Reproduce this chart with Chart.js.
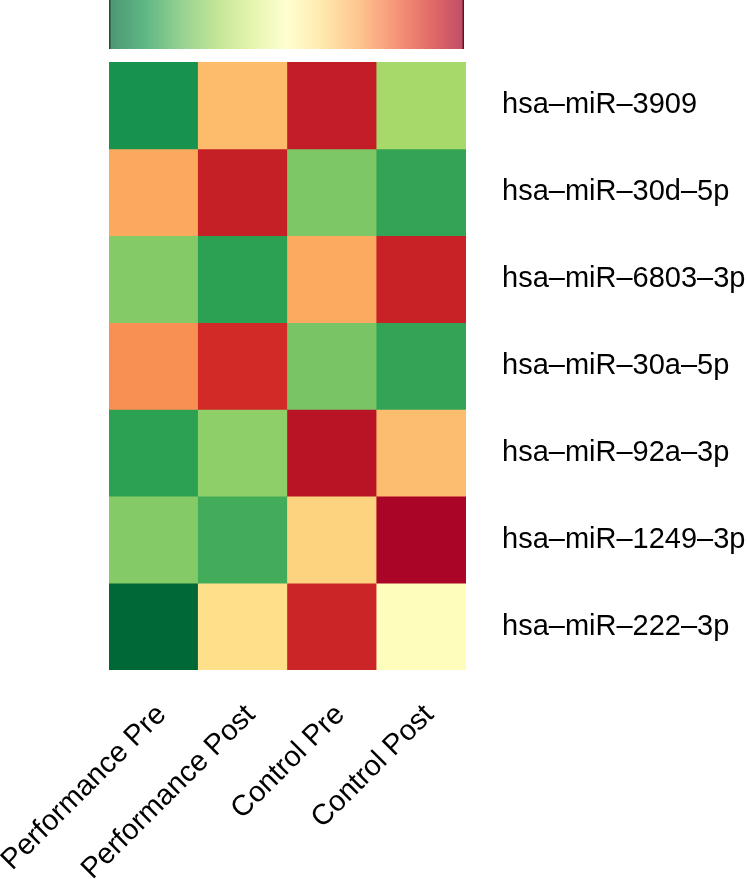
<!DOCTYPE html>
<html>
<head>
<meta charset="utf-8">
<script src="https://cdn.jsdelivr.net/npm/chart.js@4/dist/chart.umd.min.js"></script>
<style>
    body { margin: 0; background: #fff; }
</style>
</head>
<body>
<canvas id="heatmap" width="747" height="879"></canvas>
<script>
const columns = ["Performance Pre", "Performance Post", "Control Pre", "Control Post"];
const rowNames = [
    "hsa-miR-3909",
    "hsa-miR-30d-5p",
    "hsa-miR-6803-3p",
    "hsa-miR-30a-5p",
    "hsa-miR-92a-3p",
    "hsa-miR-1249-3p",
    "hsa-miR-222-3p",
];
// row-scaled z-scores, one list per miRNA (same order as columns)
const z3909 = [-1.23, 0.52, 1.32, -0.60];
const z30d = [0.63, 1.30, -0.79, -1.10];
const z6803 = [-0.76, -1.13, 0.62, 1.29];
const z30a = [0.74, 1.23, -0.81, -1.10];
const z92a = [-1.13, -0.71, 1.38, 0.51];
const z1249 = [-0.76, -1.04, 0.38, 1.47];
const z222 = [-1.50, 0.30, 1.27, 0.02];
const zValues = [z3909, z30d, z6803, z30a, z92a, z1249, z222];

const zMin = -1.5;
const zMax = 1.5;
// RdYlGn, reversed (green = low, red = high)
const palette = ["#006837", "#1a9850", "#66bd63", "#a6d96a", "#d9ef8b", "#ffffbf",
    "#fee08b", "#fdae61", "#f46d43", "#d73027", "#a50026"];

function hexToRgb(h) {
    return [parseInt(h.slice(1, 3), 16), parseInt(h.slice(3, 5), 16), parseInt(h.slice(5, 7), 16)];
}

function colorFor(v, alpha = 1) {
    let t = (v - zMin) / (zMax - zMin);
    t = Math.min(Math.max(t, 0), 1);
    const pos = t * (palette.length - 1);
    const i = Math.min(Math.floor(pos), palette.length - 2);
    const f = pos - i;
    const a = hexToRgb(palette[i]);
    const b = hexToRgb(palette[i + 1]);
    const c = a.map((x, k) => Math.round(x + (b[k] - x) * f));
    return `rgba(${c[0]}, ${c[1]}, ${c[2]}, ${alpha})`;
}

const pretty = (s) => s.replace(/-/g, "\u2013");

// colour key drawn above the grid
const colorKey = {
    id: "colorKey",
    afterDraw(chart) {
        const { ctx, chartArea } = chart;
        const x0 = chartArea.left;
        const x1 = chartArea.right - 2;
        const y0 = 0;
        const y1 = 49;
        const grad = ctx.createLinearGradient(x0, 0, x1, 0);
        palette.forEach((_, i) => {
            const v = zMin + (zMax - zMin) * i / (palette.length - 1);
            grad.addColorStop(i / (palette.length - 1), colorFor(v, 0.7));
        });
        ctx.save();
        ctx.fillStyle = grad;
        ctx.fillRect(x0, y0, x1 - x0, y1 - y0);
        ctx.fillStyle = "#1f4d33";
        ctx.fillRect(x0, y0, 1.5, y1 - y0);
        ctx.fillStyle = "#5e1226";
        ctx.fillRect(x1 - 1.5, y0, 1.5, y1 - y0);
        ctx.restore();
    },
};

const datasets = rowNames.map((name, r) => ({
    label: name,
    data: columns.map(() => [r, r + 1]),
    backgroundColor: zValues[r].map((v) => colorFor(v)),
    borderWidth: 0,
    borderSkipped: false,
}));

const labelFont = { family: "'Liberation Sans', Arial, sans-serif", size: 29 };

new Chart(document.getElementById("heatmap"), {
    type: "bar",
    data: { labels: columns, datasets: datasets },
    options: {
        responsive: false,
        animation: false,
        layout: { padding: { left: 109, top: 62, right: 0, bottom: 0 } },
        datasets: { bar: { grouped: false, barPercentage: 1, categoryPercentage: 1 } },
        plugins: { legend: { display: false }, tooltip: { enabled: false } },
        scales: {
            x: {
                grid: { display: false, drawTicks: false },
                border: { display: false },
                ticks: {
                    color: "#000",
                    font: labelFont,
                    minRotation: 45,
                    maxRotation: 45,
                    padding: 28,
                    labelOffset: 8,
                    autoSkip: false,
                },
                afterFit: (s) => {
                    s.height = 209;
                    s.paddingLeft = 0;
                    s.paddingRight = 0;
                },
            },
            y: {
                position: "right",
                reverse: true,
                min: 0,
                max: rowNames.length,
                grid: { display: false, drawTicks: false },
                border: { display: false },
                afterBuildTicks: (axis) => {
                    axis.ticks = rowNames.map((_, i) => ({ value: i + 0.5 }));
                },
                ticks: {
                    color: "#000",
                    font: labelFont,
                    padding: 36,
                    callback: (value) => pretty(rowNames[Math.floor(value)]),
                },
                afterFit: (s) => {
                    s.width = 281;
                    s.paddingTop = 0;
                    s.paddingBottom = 0;
                },
            },
        },
    },
    plugins: [colorKey],
});
</script>
</body>
</html>
